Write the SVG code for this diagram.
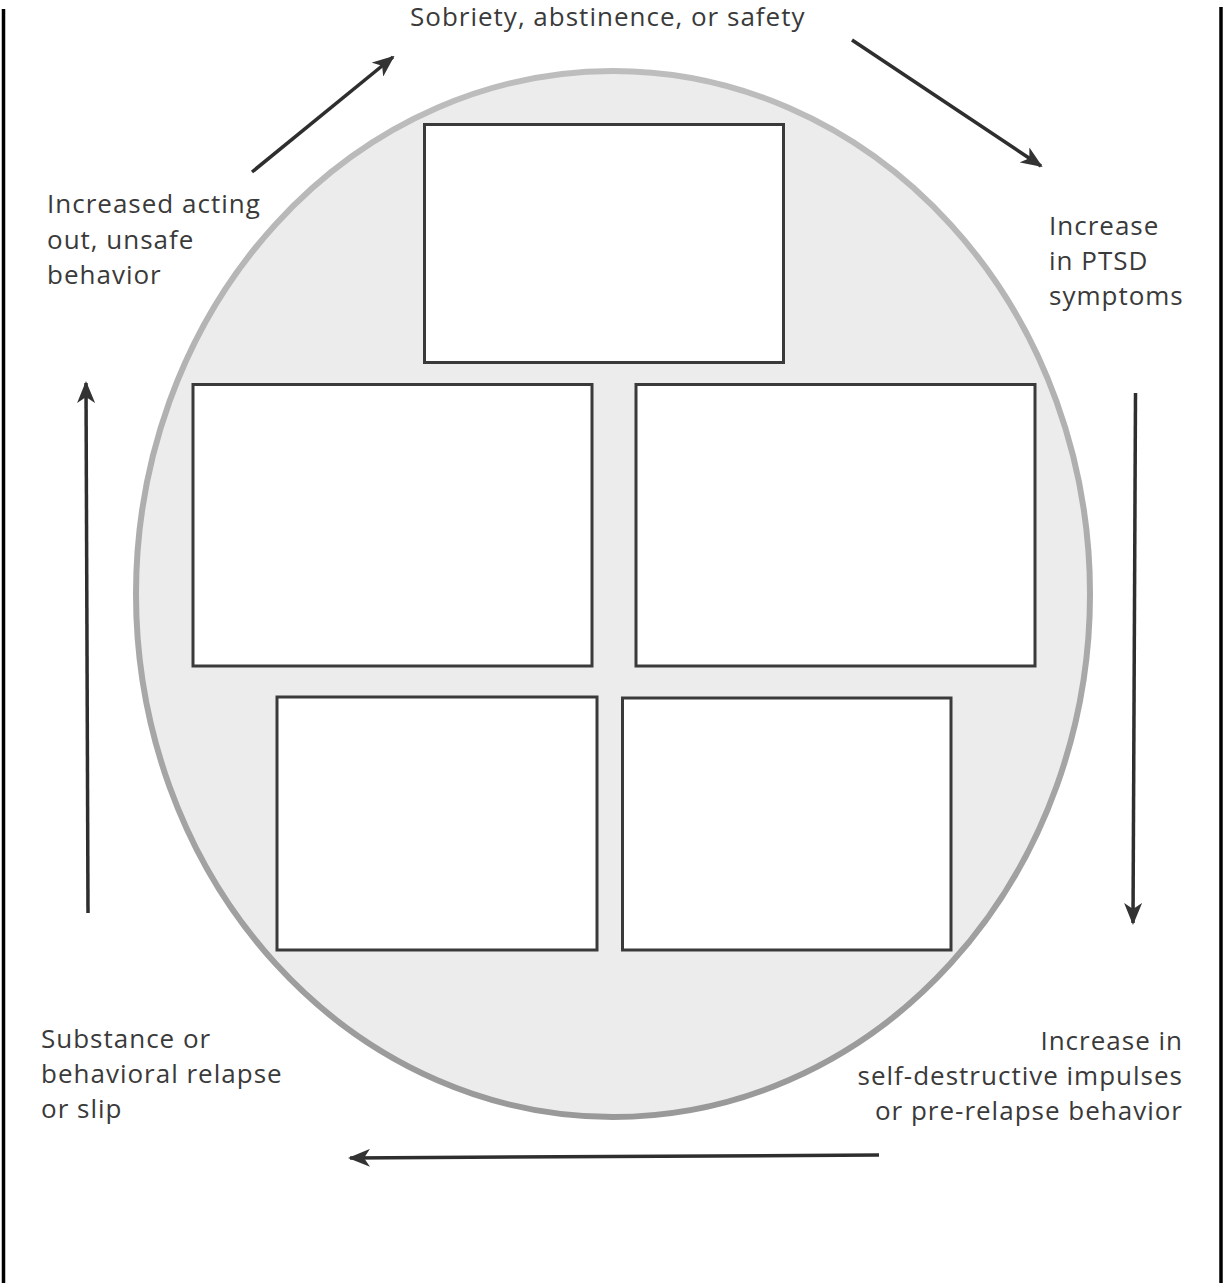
<svg xmlns="http://www.w3.org/2000/svg" width="1225" height="1283" viewBox="0 0 1225 1283">
<defs>
<linearGradient id="ring" x1="0" y1="0" x2="0" y2="1">
<stop offset="0" stop-color="#bdbdbd"/>
<stop offset="1" stop-color="#999999"/>
</linearGradient>
<marker id="ah" viewBox="0 0 22 18" refX="20" refY="9" markerWidth="22" markerHeight="18" markerUnits="userSpaceOnUse" orient="auto">
<path d="M0,0 L22,9 L0,18 L6,9 Z" fill="#333333"/>
</marker>
</defs>
<style>
.lbl{font-family:"Open Sans","Noto Sans","Liberation Sans",sans-serif;font-size:26px;letter-spacing:1px;fill:#3a3a3a}
.box{fill:#ffffff;stroke:#3a3a3a;stroke-width:3}
.arr{stroke:#2e2e2e;stroke-width:3.5;fill:none;marker-end:url(#ah)}
.border{stroke:#000000;stroke-width:3.5}
</style>
<rect x="0" y="0" width="1225" height="1283" fill="#ffffff"/>
<g id="frame">
<line class="border" x1="3.5" y1="9" x2="3.5" y2="1283"/>
<line class="border" x1="1221" y1="7" x2="1221" y2="1283"/>
</g>
<g id="cycle">
<ellipse cx="613" cy="594" rx="477" ry="523" fill="#ececec" stroke="url(#ring)" stroke-width="6"/>
</g>
<g id="box-top"><rect class="box" x="424.5" y="124.5" width="359" height="238"/></g>
<g id="box-mid-left"><rect class="box" x="193" y="384.5" width="399" height="281.5"/></g>
<g id="box-mid-right"><rect class="box" x="636" y="384.5" width="399" height="281.5"/></g>
<g id="box-bot-left"><rect class="box" x="277" y="697" width="320" height="253"/></g>
<g id="box-bot-right"><rect class="box" x="622.5" y="698" width="328.5" height="252"/></g>
<g id="connectors">
<line class="arr" x1="252" y1="172" x2="393" y2="57"/>
<line class="arr" x1="852" y1="40" x2="1041" y2="166"/>
<line class="arr" x1="1135.5" y1="393" x2="1133" y2="923"/>
<line class="arr" x1="879" y1="1155" x2="350" y2="1158"/>
<line class="arr" x1="88" y1="913" x2="86" y2="383"/>
</g>
<g id="labels">
<text class="lbl" x="410" y="26">Sobriety, abstinence, or safety</text>
<text class="lbl" x="47" y="213">Increased acting</text>
<text class="lbl" x="47" y="249">out, unsafe</text>
<text class="lbl" x="47" y="284">behavior</text>
<text class="lbl" x="1049" y="235">Increase</text>
<text class="lbl" x="1049" y="270">in PTSD</text>
<text class="lbl" x="1049" y="305">symptoms</text>
<text class="lbl" x="41" y="1048">Substance or</text>
<text class="lbl" x="41" y="1083">behavioral relapse</text>
<text class="lbl" x="41" y="1118">or slip</text>
<text class="lbl" x="1183" y="1050" text-anchor="end">Increase in</text>
<text class="lbl" x="1183" y="1085" text-anchor="end">self-destructive impulses</text>
<text class="lbl" x="1183" y="1120" text-anchor="end">or pre-relapse behavior</text>
</g>
</svg>
